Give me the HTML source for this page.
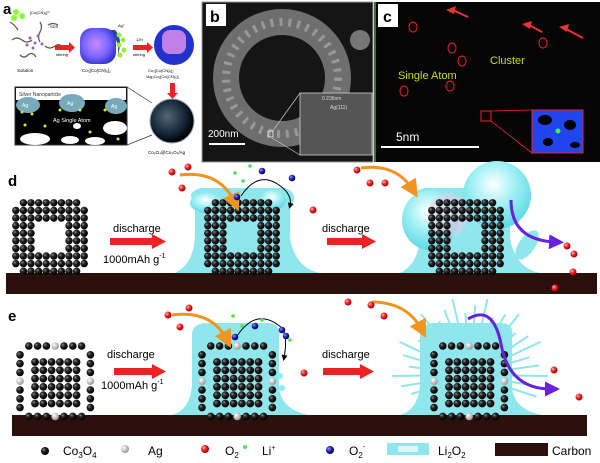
<!DOCTYPE html>
<html><head><meta charset="utf-8"><style>
body{margin:0;background:#fff;}
svg{display:block;font-family:"Liberation Sans",sans-serif;}
</style></head><body>
<svg id="s" width="600" height="463" viewBox="0 0 600 463" xmlns="http://www.w3.org/2000/svg">
<defs>
<radialGradient id="bk" cx="35%" cy="35%" r="65%"><stop offset="0" stop-color="#888"/><stop offset=".4" stop-color="#222"/><stop offset="1" stop-color="#000"/></radialGradient>
<radialGradient id="gy" cx="35%" cy="35%" r="65%"><stop offset="0" stop-color="#fff"/><stop offset="1" stop-color="#999"/></radialGradient>
<radialGradient id="rd" cx="35%" cy="35%" r="65%"><stop offset="0" stop-color="#fbb"/><stop offset=".5" stop-color="#e22"/><stop offset="1" stop-color="#a00"/></radialGradient>
<radialGradient id="bl" cx="35%" cy="35%" r="65%"><stop offset="0" stop-color="#99f"/><stop offset=".5" stop-color="#22b"/><stop offset="1" stop-color="#006"/></radialGradient>
<radialGradient id="bub" cx="45%" cy="35%" r="65%"><stop offset="0" stop-color="#fff"/><stop offset=".5" stop-color="#9ef0f4"/><stop offset="1" stop-color="#5fd8e4"/></radialGradient>
<radialGradient id="pur" cx="45%" cy="45%" r="60%"><stop offset="0" stop-color="#c8f" /><stop offset=".6" stop-color="#76f"/><stop offset="1" stop-color="#33c"/></radialGradient>
<radialGradient id="sph" cx="40%" cy="40%" r="60%"><stop offset="0" stop-color="#567"/><stop offset=".7" stop-color="#123"/><stop offset="1" stop-color="#000"/></radialGradient>
<marker id="ao" markerWidth="6" markerHeight="6" refX="3" refY="3" orient="auto"><path d="M0,0L6,3L0,6z" fill="#f39320"/></marker>
<marker id="ap" markerWidth="5" markerHeight="5" refX="2" refY="2.5" orient="auto"><path d="M0,0L5,2.5L0,5z" fill="#6622dd"/></marker>
<marker id="ak" markerWidth="6" markerHeight="6" refX="3" refY="3" orient="auto"><path d="M0,0L6,3L0,6z" fill="#000"/></marker>
</defs>

<!-- panel a -->
<text x="3" y="14" font-size="15" font-weight="bold">a</text>
<g stroke="#6b5a4a" stroke-width="1.3" fill="none">
<path d="M12,40 q5,-4 10,0 t10,0"/><path d="M40,22 q3,5 0,10 t0,10"/><path d="M45,46 q5,4 10,0 t10,4"/><path d="M20,55 q4,4 8,0 t8,2"/><path d="M10,22 q5,3 8,8"/><path d="M48,25 q5,-3 10,0"/></g>
<g fill="#8a5fe0"><circle cx="30" cy="38" r="1.5"/><circle cx="35" cy="43" r="1.5"/><circle cx="38" cy="36" r="1.5"/><circle cx="33" cy="48" r="1.5"/><circle cx="42" cy="44" r="1.5"/><circle cx="27" cy="45" r="1.5"/></g>
<g fill="#8f3"><circle cx="16" cy="12" r="3"/><circle cx="22" cy="16" r="3"/><circle cx="14" cy="18" r="3"/></g>
<text x="30" y="14" font-size="4">[Co(CN)₆]³⁻</text><text x="50" y="28" font-size="4">SDS</text>
<text x="17" y="72" font-size="4.5">Solution</text>
<rect x="55" y="45" width="14" height="5" fill="#e22"/><path d="M69,42 l6,5.5 l-6,5.5z" fill="#e22"/><text x="56" y="56" font-size="4">stirring</text>
<rect x="80" y="28" width="36" height="36" rx="12" fill="url(#pur)"/>
<path d="M115,30 q10,10 0,33 q8,-15 -4,-33z" fill="#24a"/>
<g fill="#9e3"><circle cx="119" cy="35" r="2.5"/><circle cx="123" cy="40" r="2.5"/><circle cx="119" cy="45" r="2.5"/><circle cx="124" cy="50" r="2.5"/><circle cx="120" cy="55" r="2.5"/></g>
<text x="118" y="27" font-size="4">Ag⁺</text>
<text x="82" y="72" font-size="4.5">Co₃[Co(CN)₆]₂</text>
<rect x="133" y="45" width="14" height="5" fill="#e22"/><path d="M147,42 l6,5.5 l-6,5.5z" fill="#e22"/><text x="136" y="41" font-size="4">12h</text><text x="133" y="56" font-size="4">stirring</text>
<circle cx="174" cy="45" r="20" fill="#2233cc"/><rect x="162" y="30" width="24" height="24" rx="8" fill="#c080e8"/>
<text x="148" y="72" font-size="4">Co₃[Co(CN)₆]₂</text><text x="146" y="78" font-size="4">/Ag₃Co₂[Co(CN)₆]₂</text>
<rect x="170" y="83" width="5" height="10" fill="#e22"/><path d="M167,93 h11 l-5.5,6z" fill="#e22"/>
<circle cx="172" cy="121" r="22" fill="url(#sph)" stroke="#9ab" stroke-width="1"/>
<text x="148" y="154" font-size="4.5">Co₃O₄@Co₃O₄/Ag</text>
<rect x="15" y="87" width="112" height="58" fill="#000" stroke="#333" stroke-width="1"/>
<rect x="16" y="88" width="110" height="12" fill="#fff"/>
<text x="19" y="96" font-size="5" fill="#333">Silver Nanoparticle</text>
<ellipse cx="28" cy="105" rx="12" ry="8" fill="#7ab"/><ellipse cx="72" cy="103" rx="13" ry="9" fill="#7ab"/><ellipse cx="116" cy="106" rx="11" ry="8" fill="#7ab"/>
<text x="22" y="107" font-size="5" fill="#fff">Ag</text><text x="67" y="105" font-size="5" fill="#fff">Ag</text><text x="111" y="108" font-size="5" fill="#fff">Ag</text>
<text x="53" y="122" font-size="5.5" fill="#fff">Ag Single Atom</text>
<ellipse cx="35" cy="139" rx="15" ry="6" fill="#fff"/><ellipse cx="115" cy="128" rx="12" ry="7" fill="#fff"/><ellipse cx="70" cy="140" rx="9" ry="4" fill="#fff"/><ellipse cx="95" cy="141" rx="10" ry="4" fill="#fff"/><ellipse cx="77" cy="126" rx="4" ry="3" fill="#fff"/>
<g fill="#ce3"><circle cx="22" cy="112" r="1.5"/><circle cx="32" cy="114" r="1.5"/><circle cx="60" cy="110" r="1.5"/><circle cx="80" cy="110" r="1.5"/><circle cx="105" cy="110" r="1.5"/><circle cx="25" cy="125" r="1.5"/><circle cx="45" cy="126" r="1.5"/><circle cx="90" cy="132" r="1.5"/><circle cx="118" cy="139" r="1.5"/></g>
<line x1="127" y1="87" x2="152" y2="103" stroke="#333" stroke-width=".7"/><line x1="127" y1="145" x2="152" y2="135" stroke="#333" stroke-width=".7"/>

<!-- panel b -->
<rect x="202" y="2" width="171" height="160" fill="#151515" stroke="#999" stroke-width="1"/>
<ellipse cx="282" cy="78" rx="56" ry="56" fill="none" stroke="#6e6e6e" stroke-width="26"/>
<ellipse cx="282" cy="78" rx="56" ry="56" fill="none" stroke="#aaa" stroke-width="8" stroke-dasharray="3 6" opacity=".7"/>
<circle cx="360" cy="40" r="10" fill="#777"/>
<rect x="206" y="4" width="20" height="22" fill="#fff"/><text x="210" y="22" font-size="16" font-weight="bold">b</text>
<rect x="300" y="93" width="72" height="62" fill="#555" stroke="#ccc" stroke-width=".8"/>
<text x="322" y="100" font-size="5" fill="#ddd">0.236nm</text><text x="330" y="109" font-size="5" fill="#ddd">Ag(111)</text>
<line x1="272" y1="132" x2="300" y2="93" stroke="#ccc" stroke-width=".7"/><line x1="272" y1="138" x2="300" y2="155" stroke="#ccc" stroke-width=".7"/>
<rect x="268" y="131" width="5" height="6" fill="none" stroke="#fff" stroke-width=".7"/>
<text x="208" y="137" font-size="10" fill="#fff">200nm</text><rect x="209" y="143" width="36" height="2" fill="#fff"/>

<!-- panel c -->
<rect x="374" y="2" width="226" height="160" fill="#050505"/>
<line x1="375" y1="2" x2="375" y2="162" stroke="#7d7" stroke-width="1"/>
<rect x="378" y="4" width="20" height="23" fill="#fff"/><text x="383" y="22" font-size="16" font-weight="bold">c</text>
<g fill="#e33"><path d="M446,10 l10,-4 -2,8z"/><path d="M522,24 l10,-3 -2,8z"/><path d="M559,27 l10,-3 -2,8z"/></g>
<g stroke="#e33" stroke-width="2"><line x1="453" y1="10" x2="468" y2="17"/><line x1="529" y1="25" x2="542" y2="32"/><line x1="566" y1="29" x2="583" y2="38"/></g>
<g fill="none" stroke="#e22" stroke-width="1"><ellipse cx="413" cy="27" rx="4" ry="5"/><ellipse cx="452" cy="48" rx="4" ry="5"/><ellipse cx="462" cy="61" rx="4" ry="5"/><ellipse cx="404" cy="91" rx="4" ry="5"/><ellipse cx="450" cy="86" rx="4" ry="5"/><ellipse cx="543" cy="43" rx="4" ry="5"/></g>
<text x="398" y="79" font-size="11" fill="#cddb1a">Single Atom</text>
<text x="490" y="64" font-size="11" fill="#cddb1a">Cluster</text>
<text x="396" y="141" font-size="12" fill="#fff">5nm</text><rect x="381" y="146" width="98" height="2" fill="#fff"/>
<rect x="532" y="110" width="51" height="43" fill="#2244ee" stroke="#e22" stroke-width="1"/>
<g fill="#000"><ellipse cx="545" cy="120" rx="7" ry="5"/><ellipse cx="570" cy="125" rx="6" ry="5"/><ellipse cx="548" cy="142" rx="5" ry="4"/><ellipse cx="575" cy="145" rx="5" ry="3"/></g>
<circle cx="558" cy="131" r="2.5" fill="#3f3"/>
<rect x="481" y="111" width="10" height="10" fill="none" stroke="#e22" stroke-width="1"/>
<line x1="491" y1="111" x2="532" y2="110" stroke="#e22" stroke-width=".8"/><line x1="491" y1="121" x2="532" y2="153" stroke="#e22" stroke-width=".8"/>

<!-- panel d -->
<text x="8" y="186" font-size="15" font-weight="bold">d</text>
<rect x="6" y="273" width="591" height="21" fill="#2b0f0a"/>
<path d="M175,273 q20,-10 20,-40 v-30 q-10,-10 5,-15 h85 q15,5 5,20 v30 q5,30 30,35z" fill="#8fe6ec"/>
<ellipse cx="207" cy="203" rx="17" ry="10" fill="url(#bub)"/><ellipse cx="273" cy="200" rx="13" ry="10" fill="url(#bub)"/>
<path d="M400,273 q20,-10 20,-40 v-30 q-15,-10 5,-15 h80 q15,5 5,20 v30 q5,30 30,35z" fill="#8fe6ec"/>
<ellipse cx="430" cy="220" rx="28" ry="30" fill="url(#bub)"/><ellipse cx="448" cy="215" rx="20" ry="22" fill="#f4c8e8" opacity=".5"/>
<circle cx="497" cy="195" r="34" fill="url(#bub)"/>
<ellipse cx="527" cy="245" rx="8" ry="17" transform="rotate(35 527 245)" fill="#8fe6ec"/>
<g id="dring"></g>
<text x="113" y="232" font-size="11">discharge</text><text x="103" y="263" font-size="11">1000mAh g<tspan font-size="7" dy="-5">-1</tspan></text>
<rect x="110" y="238" width="42" height="7" fill="#e22"/><path d="M152,234 l14,7.5 -14,7.5z" fill="#e22"/>
<text x="322" y="232" font-size="11">discharge</text>
<rect x="327" y="238" width="35" height="7" fill="#e22"/><path d="M362,234 l14,7.5 -14,7.5z" fill="#e22"/>
<path d="M180,175 q40,-5 55,28" stroke="#f39320" stroke-width="3" fill="none" marker-end="url(#ao)"/>
<path d="M241,196 q20,-30 45,-5 q6,8 4,15" stroke="#000" stroke-width="1" fill="none" marker-end="url(#ak)"/>
<path d="M361,168 q35,-5 52,22" stroke="#f39320" stroke-width="3" fill="none" marker-end="url(#ao)"/>
<path d="M511,200 q0,40 44,42" stroke="#6622dd" stroke-width="3" fill="none" marker-end="url(#ap)"/>
<g id="ballsd"></g>

<!-- panel e -->
<text x="8" y="321" font-size="15" font-weight="bold">e</text>
<rect x="12" y="415" width="575" height="21" fill="#2b0f0a"/>
<path d="M172,415 q18,-5 20,-30 v-50 q0,-12 15,-12 h60 q15,0 12,15 v50 q3,22 30,27z" fill="#8fe6ec"/>
<g id="spikes" stroke="#8fe6ec" stroke-width="2"></g>
<path d="M400,415 q18,-5 20,-30 v-50 q0,-12 15,-12 h65 q15,0 12,15 v50 q3,22 30,27z" fill="#8fe6ec"/>
<g id="ering"></g>
<text x="107" y="358" font-size="11">discharge</text><text x="101" y="389" font-size="11">1000mAh g<tspan font-size="7" dy="-5">-1</tspan></text>
<rect x="114" y="368" width="38" height="7" fill="#e22"/><path d="M152,364 l14,7.5 -14,7.5z" fill="#e22"/>
<text x="322" y="358" font-size="11">discharge</text>
<rect x="323" y="368" width="37" height="7" fill="#e22"/><path d="M360,364 l14,7.5 -14,7.5z" fill="#e22"/>
<path d="M172,315 q40,-5 55,25" stroke="#f39320" stroke-width="3" fill="none" marker-end="url(#ao)"/>
<path d="M237,336 q20,-30 45,-8 q6,8 2,30" stroke="#000" stroke-width="1" fill="none" marker-end="url(#ak)"/>
<path d="M372,302 q35,0 50,28" stroke="#f39320" stroke-width="3" fill="none" marker-end="url(#ao)"/>
<path d="M468,319 q25,-15 33,25 q8,45 50,45" stroke="#6622dd" stroke-width="3" fill="none" marker-end="url(#ap)"/>
<g id="ballse"></g>

<!-- legend -->
<g id="leg"></g>
<g font-size="12">
<text x="63" y="455">Co<tspan font-size="8" dy="3">3</tspan><tspan dy="-3">O</tspan><tspan font-size="8" dy="3">4</tspan></text>
<text x="148" y="455">Ag</text>
<text x="225" y="455">O<tspan font-size="8" dy="3">2</tspan></text>
<text x="262" y="455">Li<tspan font-size="7" dy="-5">+</tspan></text>
<text x="349" y="455">O<tspan font-size="8" dy="3">2</tspan><tspan font-size="7" dy="-9">-</tspan></text>
<text x="438" y="455">Li<tspan font-size="8" dy="3">2</tspan><tspan dy="-3">O</tspan><tspan font-size="8" dy="3">2</tspan></text>
<text x="552" y="455">Carbon</text>
</g>
<rect x="387" y="443" width="42" height="12" fill="#8fe6ec"/><rect x="398" y="446" width="20" height="6" fill="#d8fafc"/>
<rect x="495" y="443" width="53" height="13" fill="#2b0f0a"/>
</svg>
<script>
var NS="http://www.w3.org/2000/svg";
function c(g,x,y,r,f){var e=document.createElementNS(NS,"circle");e.setAttribute("cx",x);e.setAttribute("cy",y);e.setAttribute("r",r);e.setAttribute("fill",f);document.getElementById(g).appendChild(e);}
function dring(x0,y0){var n=10,s=7.6;for(var i=0;i<n;i++)for(var j=0;j<n;j++){var inner=(i>=3&&i<=6&&j>=3&&j<=6);var ci=Math.min(i,n-1-i),cj=Math.min(j,n-1-j);if(inner||ci+cj<1)continue;c("dring",x0+i*s+3.8,y0+j*s+3.8,3.7,"url(#bk)");}}
dring(12,199);dring(204,199);dring(428,199);
function ering(x0,y0){var s=8.8,n=9;for(var i=0;i<n;i++)for(var j=0;j<n;j++){var edge=(i==0||i==n-1||j==0||j==n-1);var corner=((i==0||i==n-1)&&(j==0||j==n-1));if(!edge||corner)continue;var g=((i*3+j*5)%4==0);c("ering",x0+i*s+4,y0+j*s+4,3.8,g?"url(#gy)":"url(#bk)");}
for(var a=0;a<6;a++)for(var b=0;b<6;b++)c("ering",x0+15+a*8.3+4,y0+16+b*8.3+4,3.9,"url(#bk)");}
ering(16,342);ering(198,342);ering(430,342);
var sp=document.getElementById("spikes");for(var k=0;k<26;k++){var a=Math.PI*(0.9+k*0.048);var cx=470,cy=375;var l=document.createElementNS(NS,"line");l.setAttribute("x1",cx+Math.cos(a)*40);l.setAttribute("y1",cy+Math.sin(a)*40);l.setAttribute("x2",cx+Math.cos(a)*(62+(k%3)*8));l.setAttribute("y2",cy+Math.sin(a)*(62+(k%3)*8));sp.appendChild(l);}
[[172,172],[188,167],[182,188],[313,210],[357,170],[370,183],[385,183],[567,246],[573,272],[555,288],[574,254]].forEach(function(p){c("ballsd",p[0],p[1],3.5,"url(#rd)");});
[[237,197],[262,171],[292,178]].forEach(function(p){c("ballsd",p[0],p[1],3.3,"url(#bl)");});
[[235,173],[243,181],[250,166]].forEach(function(p){c("ballsd",p[0],p[1],1.8,"#5d5");});
[[168,315],[189,308],[180,327],[304,373],[348,302],[371,305],[384,316],[554,370],[579,397]].forEach(function(p){c("ballse",p[0],p[1],3.5,"url(#rd)");});
[[235,337],[255,326],[282,330],[286,336]].forEach(function(p){c("ballse",p[0],p[1],3.3,"url(#bl)");});
[[233,316],[242,326],[262,320],[290,340]].forEach(function(p){c("ballse",p[0],p[1],1.8,"#5d5");});
[[280,376],[282,388]].forEach(function(p){c("ballse",p[0],p[1],3,"#8ef");});
c("leg",45,451,4,"url(#bk)");c("leg",125,449,4,"url(#gy)");c("leg",205,449,4,"url(#rd)");c("leg",245,447,2,"#5d5");c("leg",330,450,4,"url(#bl)");
</script>
</body></html>
